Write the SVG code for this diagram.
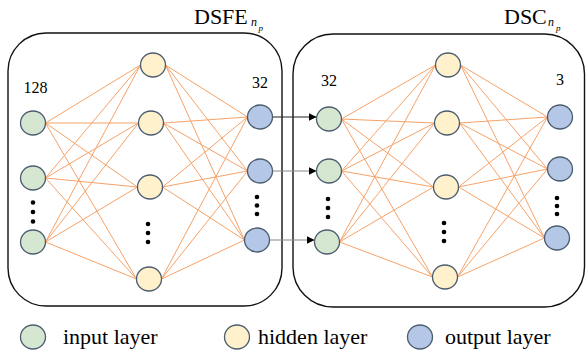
<svg xmlns="http://www.w3.org/2000/svg" width="586" height="354" viewBox="0 0 586 354">
  <style>
    .box { fill: none; stroke: #111; stroke-width: 1.4; }
    .in { fill: #d6e7d1; stroke: #4d5d70; stroke-width: 1.3; }
    .hid { fill: #fff1cb; stroke: #4d5d70; stroke-width: 1.3; }
    .out { fill: #b4c7e7; stroke: #4d5d70; stroke-width: 1.3; }
    .edge { stroke: #f6a268; stroke-width: 1; fill: none; }
    .dot { fill: #000; }
    .t { font-family: "Liberation Serif", "Times New Roman", serif; fill: #000; }
    .title { font-size: 22px; }
    .sub { font-style: italic; }
    .num { font-size: 16px; text-anchor: middle; }
    .leg { font-size: 22px; }
  </style>
  <defs>
    <marker id="arrow" viewBox="0 0 10 10" refX="10" refY="5" markerWidth="8" markerHeight="8" markerUnits="userSpaceOnUse" orient="auto">
      <path d="M0,0 L10,5 L0,10 z" fill="#000"/>
    </marker>
  </defs>

  <rect width="586" height="354" fill="#fff"/>

  <!-- module frames and titles -->
  <g id="dsfe-frame">
    <rect class="box" x="8" y="33" width="274" height="273" rx="38" ry="38"/>
    <text class="t title" x="194" y="24">DSFE</text>
    <text class="t sub" x="251" y="26" font-size="12">n</text>
    <text class="t sub" x="258.5" y="30.5" font-size="9">p</text>
  </g>
  <g id="dsc-frame">
    <rect class="box" x="293" y="34" width="291.5" height="273" rx="40" ry="40"/>
    <text class="t title" x="504" y="24">DSC</text>
    <text class="t sub" x="548" y="26" font-size="12">n</text>
    <text class="t sub" x="556" y="30.5" font-size="9">p</text>
  </g>

  <!-- fully connected edges -->
  <g id="connectors">
    <!-- DSFE: input -> hidden -->
    <path class="edge" d="M45.5,123 L140.5,65 M45.5,123 L138.5,123 M45.5,123 L137.5,187 M45.5,123 L136.5,279
                          M45.5,178 L140.5,65 M45.5,178 L138.5,123 M45.5,178 L137.5,187 M45.5,178 L136.5,279
                          M45.5,242 L140.5,65 M45.5,242 L138.5,123 M45.5,242 L137.5,187 M45.5,242 L136.5,279"/>
    <!-- DSFE: hidden -> output -->
    <path class="edge" d="M165.5,65 L247.5,117 M165.5,65 L247.5,171 M165.5,65 L244.5,240
                          M163.5,123 L247.5,117 M163.5,123 L247.5,171 M163.5,123 L244.5,240
                          M162.5,187 L247.5,117 M162.5,187 L247.5,171 M162.5,187 L244.5,240
                          M161.5,279 L247.5,117 M161.5,279 L247.5,171 M161.5,279 L244.5,240"/>
    <!-- DSC: input -> hidden -->
    <path class="edge" d="M341.5,119 L435.5,65 M341.5,119 L434.5,123 M341.5,119 L433.5,187 M341.5,119 L432.5,277
                          M341.5,171 L435.5,65 M341.5,171 L434.5,123 M341.5,171 L433.5,187 M341.5,171 L432.5,277
                          M339.5,242 L435.5,65 M339.5,242 L434.5,123 M339.5,242 L433.5,187 M339.5,242 L432.5,277"/>
    <!-- DSC: hidden -> output -->
    <path class="edge" d="M460.5,65 L547.5,117 M460.5,65 L547.5,169 M460.5,65 L544.5,238
                          M459.5,123 L547.5,117 M459.5,123 L547.5,169 M459.5,123 L544.5,238
                          M458.5,187 L547.5,117 M458.5,187 L547.5,169 M458.5,187 L544.5,238
                          M457.5,277 L547.5,117 M457.5,277 L547.5,169 M457.5,277 L544.5,238"/>
    <!-- DSFE outputs feed DSC inputs -->
    <line x1="272.5" y1="117" x2="316.5" y2="117" stroke="#222" stroke-width="1.2" marker-end="url(#arrow)"/>
    <line x1="272.5" y1="171" x2="316.5" y2="171" stroke="#888" stroke-width="1.2" marker-end="url(#arrow)"/>
    <line x1="269.5" y1="240" x2="314.5" y2="240" stroke="#888" stroke-width="1.2" marker-end="url(#arrow)"/>
  </g>

  <!-- DSFE layers -->
  <g id="dsfe-input">
    <text class="t num" x="35.5" y="93">128</text>
    <ellipse class="in" cx="33" cy="123" rx="12.5" ry="12"/>
    <ellipse class="in" cx="33" cy="178" rx="12.5" ry="12"/>
    <circle class="dot" cx="33" cy="202.5" r="2.3"/>
    <circle class="dot" cx="33" cy="212" r="2.3"/>
    <circle class="dot" cx="33" cy="221.5" r="2.3"/>
    <ellipse class="in" cx="33" cy="242" rx="12.5" ry="12"/>
  </g>
  <g id="dsfe-hidden">
    <ellipse class="hid" cx="153" cy="65" rx="12.5" ry="12"/>
    <ellipse class="hid" cx="151" cy="123" rx="12.5" ry="12"/>
    <ellipse class="hid" cx="150" cy="187" rx="12.5" ry="12"/>
    <circle class="dot" cx="148" cy="224" r="2.3"/>
    <circle class="dot" cx="148" cy="233" r="2.3"/>
    <circle class="dot" cx="148" cy="242" r="2.3"/>
    <ellipse class="hid" cx="149" cy="279" rx="12.5" ry="12"/>
  </g>
  <g id="dsfe-output">
    <text class="t num" x="260" y="88">32</text>
    <ellipse class="out" cx="260" cy="117" rx="12.5" ry="12"/>
    <ellipse class="out" cx="260" cy="171" rx="12.5" ry="12"/>
    <circle class="dot" cx="257" cy="197" r="2.3"/>
    <circle class="dot" cx="257" cy="205.5" r="2.3"/>
    <circle class="dot" cx="257" cy="214" r="2.3"/>
    <ellipse class="out" cx="257" cy="240" rx="12.5" ry="12"/>
  </g>

  <!-- DSC layers -->
  <g id="dsc-input">
    <text class="t num" x="329" y="86">32</text>
    <ellipse class="in" cx="329" cy="119" rx="12.5" ry="12"/>
    <ellipse class="in" cx="329" cy="171" rx="12.5" ry="12"/>
    <circle class="dot" cx="328" cy="199" r="2.3"/>
    <circle class="dot" cx="328" cy="208" r="2.3"/>
    <circle class="dot" cx="328" cy="217" r="2.3"/>
    <ellipse class="in" cx="327" cy="242" rx="12.5" ry="12"/>
  </g>
  <g id="dsc-hidden">
    <ellipse class="hid" cx="448" cy="65" rx="12.5" ry="12"/>
    <ellipse class="hid" cx="447" cy="123" rx="12.5" ry="12"/>
    <ellipse class="hid" cx="446" cy="187" rx="12.5" ry="12"/>
    <circle class="dot" cx="444" cy="223" r="2.3"/>
    <circle class="dot" cx="444" cy="232" r="2.3"/>
    <circle class="dot" cx="444" cy="241" r="2.3"/>
    <ellipse class="hid" cx="445" cy="277" rx="12.5" ry="12"/>
  </g>
  <g id="dsc-output">
    <text class="t num" x="560" y="85">3</text>
    <ellipse class="out" cx="560" cy="117" rx="12.5" ry="12"/>
    <ellipse class="out" cx="560" cy="169" rx="12.5" ry="12"/>
    <circle class="dot" cx="557" cy="198" r="2.3"/>
    <circle class="dot" cx="557" cy="206" r="2.3"/>
    <circle class="dot" cx="557" cy="214" r="2.3"/>
    <ellipse class="out" cx="557" cy="238" rx="12.5" ry="12"/>
  </g>

  <!-- legend -->
  <g id="legend-input">
    <ellipse class="in" cx="33" cy="337" rx="12.5" ry="12"/>
    <text class="t leg" x="63" y="344">input layer</text>
  </g>
  <g id="legend-hidden">
    <ellipse class="hid" cx="237" cy="337" rx="12.5" ry="12"/>
    <text class="t leg" x="258" y="344">hidden layer</text>
  </g>
  <g id="legend-output">
    <ellipse class="out" cx="420" cy="337" rx="12.5" ry="12"/>
    <text class="t leg" x="445" y="344">output layer</text>
  </g>
</svg>
